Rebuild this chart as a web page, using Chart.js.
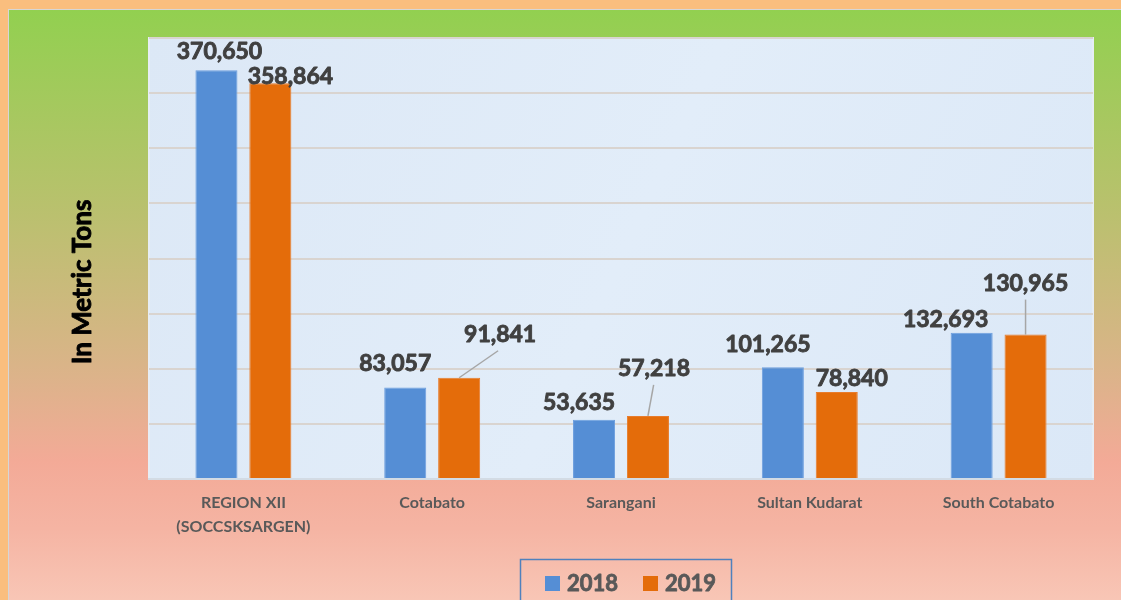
<!DOCTYPE html>
<html>
<head>
<meta charset="utf-8">
<script src="https://cdn.jsdelivr.net/npm/chart.js@4.4.1/dist/chart.umd.min.js"></script>
<style>
  html, body { margin: 0; padding: 0; }
  body { width: 1121px; height: 600px; background: #fabe7e; position: relative; overflow: hidden; }
  .panel { position: absolute; left: 8px; top: 9px; width: 1130px; height: 610px;
    border: 1.5px solid #d6d6d6;
    background: linear-gradient(to bottom, #92d050 0%, #b6c26b 30%, #dcb38a 60%, #f3aa97 74%, #f5b4a3 85%, #f9cbbb 100%); }
  #wrap { position: absolute; left: 0; top: 0; width: 1121px; height: 600px; }
</style>
</head>
<body>
<div class="panel"></div>
<div id="wrap"><canvas id="grafico"></canvas></div>
<script>
/* Dados (t) — produção por região / província */
const categorias = [['REGION XII', '(SOCCSKSARGEN)'], 'Cotabato', 'Sarangani', 'Sultan Kudarat', 'South Cotabato'];
const anos = ['2018', '2019'];
const valores2018 = [370650, 83057, 53635, 101265, 132693];
const valores2019 = [358864, 91841, 57218, 78840, 130965];
const eixoMax = 400000;
const eixoPasso = 50000;
const tituloY = 'In Metric Tons';

const CORES = ['#558ed5', '#e46c0a'];

// deslocamento dos rótulos em px (dx, dy, com linha guia?)
const desloc = [
  [[3, -19, false], [-10, -24, false], [-15, -17, false], [-15, -23, false], [-26, -13, false]],
  [[20, -7, false], [41, -43, true], [6, -47, true], [15, -14, false], [0, -51, true]]
];

function fmt(v) { return v.toLocaleString('en-US'); }

// texto "mais negrito": preenche e contorna de leve
function textoForte(ctx, txt, x, y, cor, esp) {
  ctx.fillStyle = cor; ctx.strokeStyle = cor; ctx.lineWidth = esp; ctx.lineJoin = 'round';
  ctx.fillText(txt, x, y);
  ctx.strokeText(txt, x, y);
}

const fundoPlot = {
  id: 'fundoPlot',
  beforeDraw(chart) {
    const { ctx, chartArea: a } = chart;
    ctx.save();
    const g = ctx.createLinearGradient(a.left, a.top, a.right, a.bottom);
    g.addColorStop(0, '#dce8f6');
    g.addColorStop(0.5, '#e2edf9');
    g.addColorStop(1, '#dbe8f7');
    ctx.fillStyle = g;
    ctx.fillRect(a.left, a.top, a.right - a.left, a.bottom - a.top);
    ctx.strokeStyle = '#e6edf5';
    ctx.lineWidth = 2;
    ctx.strokeRect(a.left, a.top, a.right - a.left, a.bottom - a.top);
    ctx.restore();
  }
};

const rotulos = {
  id: 'rotulos',
  afterDatasetsDraw(chart) {
    const ctx = chart.ctx;
    ctx.save();
    ctx.font = 'bold 23px Lato';
    ctx.textAlign = 'center';
    ctx.textBaseline = 'middle';
    chart.data.datasets.forEach((ds, di) => {
      chart.getDatasetMeta(di).data.forEach((bar, i) => {
        const [dx, dy, guia] = desloc[di][i];
        const lx = bar.x + dx, ly = bar.y + dy;
        if (guia) {
          ctx.beginPath();
          ctx.moveTo(bar.x, bar.y);
          ctx.lineTo(lx - dx * 0.05, ly + 16);
          ctx.strokeStyle = '#a6a6a6';
          ctx.lineWidth = 1.5;
          ctx.stroke();
        }
        textoForte(ctx, fmt(ds.data[i]), lx, ly, '#404040', 0.9);
      });
    });
    // título do eixo Y
    ctx.translate(83, 282);
    ctx.rotate(-Math.PI / 2);
    ctx.font = 'bold 26px Lato';
    textoForte(ctx, tituloY, 0, 0, '#000', 0.9);
    ctx.restore();
  }
};

const legenda = {
  id: 'legenda',
  afterDraw(chart) {
    const ctx = chart.ctx;
    ctx.save();
    ctx.strokeStyle = '#4f81bd';
    ctx.lineWidth = 1.5;
    ctx.strokeRect(520.5, 559.5, 211, 50);
    ctx.font = 'bold 22px Lato';
    ctx.textBaseline = 'middle';
    ctx.textAlign = 'left';
    const xs = [545, 643];
    chart.data.datasets.forEach((ds, i) => {
      ctx.fillStyle = ds.backgroundColor;
      ctx.fillRect(xs[i], 576, 15, 15);
      textoForte(ctx, ds.label, xs[i] + 22, 584, '#595959', 0.8);
    });
    ctx.restore();
  }
};

new Chart(document.getElementById('grafico'), {
  type: 'bar',
  data: {
    labels: categorias,
    datasets: [
      { label: anos[0], data: valores2018, backgroundColor: CORES[0], borderColor: '#6c9ede', borderWidth: 1 },
      { label: anos[1], data: valores2019, backgroundColor: CORES[1], borderColor: '#e87c2c', borderWidth: 1 }
    ]
  },
  options: {
    responsive: true, maintainAspectRatio: false, animation: false,
    categoryPercentage: 0.571, barPercentage: 0.78,
    layout: { padding: { top: 38, left: 149, right: 28, bottom: 0 } },
    plugins: { legend: { display: false }, tooltip: { enabled: false } },
    scales: {
      x: {
        grid: { display: false, drawTicks: false },
        border: { color: '#d3dbe4', width: 2 },
        ticks: { padding: 12, color: '#595959', font: { family: 'Lato', weight: 'bold', size: 16, lineHeight: 1.5 }, maxRotation: 0 },
        afterFit(axis) { axis.height = 121; }
      },
      y: {
        min: 0, max: eixoMax,
        ticks: { display: false, stepSize: eixoPasso },
        grid: { color: '#d9d4d0', lineWidth: 2, drawTicks: false },
        border: { display: false },
        afterFit(axis) { axis.width = 0; }
      }
    }
  },
  plugins: [fundoPlot, rotulos, legenda]
});
</script>
</body>
</html>
